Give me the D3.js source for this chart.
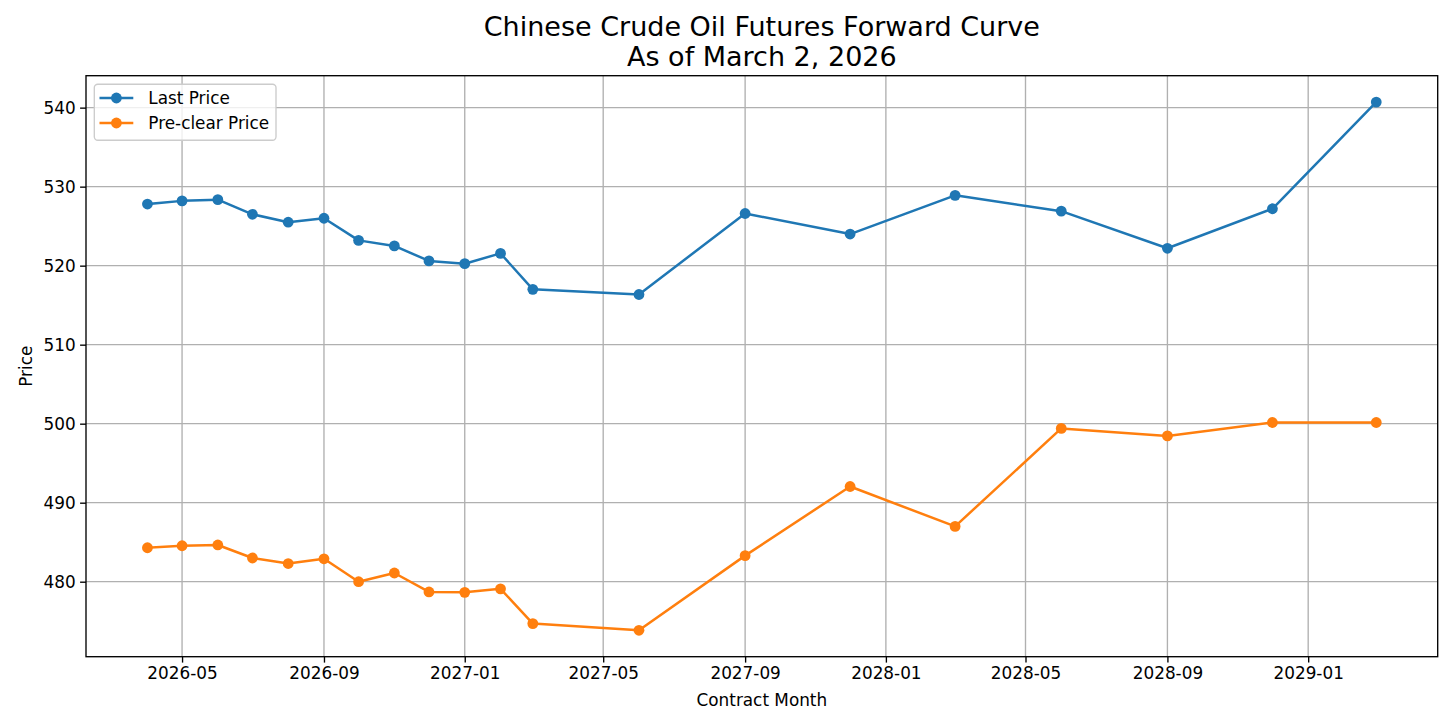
<!DOCTYPE html>
<html>
<head>
<meta charset="utf-8">
<script src="https://cdn.jsdelivr.net/npm/d3@7"></script>
<style>
  html, body { margin: 0; padding: 0; background: #ffffff; }
  svg { display: block; font-family: "DejaVu Sans", sans-serif; }
</style>
</head>
<body>
<svg id="chart" width="1456" height="728"></svg>
<script>
// ---- data ----
const contractMonths = ["2026-04","2026-05","2026-06","2026-07","2026-08","2026-09","2026-10","2026-11","2026-12",
  "2027-01","2027-02","2027-03","2027-06","2027-09","2027-12","2028-03","2028-06","2028-09","2028-12","2029-03"];
const lastPrice = [527.8, 528.2, 528.35, 526.5, 525.5, 526.0, 523.2, 522.5, 520.6,
  520.25, 521.55, 517.0, 516.35, 526.6, 524.0, 528.9, 526.9, 522.2, 527.2, 540.7];
const preclearPrice = [484.3, 484.55, 484.65, 483.0, 482.3, 482.9, 480.0, 481.1, 478.7,
  478.65, 479.1, 474.7, 473.85, 483.3, 492.05, 487.0, 499.4, 498.45, 500.15, 500.15];
const xTickLabels = ["2026-05","2026-09","2027-01","2027-05","2027-09","2028-01","2028-05","2028-09","2029-01"];
const yTickValues = [480, 490, 500, 510, 520, 530, 540];
const seriesNames = ["Last Price", "Pre-clear Price"];
const titleLines = ["Chinese Crude Oil Futures Forward Curve", "As of March 2, 2026"];

// ---- layout ----
const W = 1456, H = 728;
const m = { left: 86, right: 18.3, top: 75.7, bottom: 71.3 };
const parse = d3.timeParse("%Y-%m");
const dates = contractMonths.map(parse);
const colors = ["#1f77b4", "#ff7f0e"];
const fs = 16.85;
const markerR = 5.4;

const svg = d3.select("#chart");

// x scale with matplotlib-like 5% margins
const t0 = d3.min(dates).getTime(), t1 = d3.max(dates).getTime();
const padT = (t1 - t0) * 0.05;
const x = d3.scaleTime()
  .domain([new Date(t0 - padT), new Date(t1 + padT)])
  .range([m.left, W - m.right]);

const allVals = lastPrice.concat(preclearPrice);
const v0 = d3.min(allVals), v1 = d3.max(allVals);
const padV = (v1 - v0) * 0.05;
const y = d3.scaleLinear()
  .domain([v0 - padV, v1 + padV])
  .range([H - m.bottom, m.top]);

const xTicks = xTickLabels.map(parse);

// grid
const grid = svg.append("g");
grid.selectAll("line.gx").data(xTicks).enter().append("line")
  .attr("x1", d => x(d)).attr("x2", d => x(d))
  .attr("y1", m.top).attr("y2", H - m.bottom)
  .attr("stroke", "#b0b0b0").attr("stroke-width", 1.35);
grid.selectAll("line.gy").data(yTickValues).enter().append("line")
  .attr("x1", m.left).attr("x2", W - m.right)
  .attr("y1", d => y(d)).attr("y2", d => y(d))
  .attr("stroke", "#b0b0b0").attr("stroke-width", 1.35);

// axes
const xAxis = d3.axisBottom(x).tickValues(xTicks).tickFormat(d3.timeFormat("%Y-%m"))
  .tickSize(5.9).tickPadding(4.5).tickSizeOuter(0);
const yAxis = d3.axisLeft(y).tickValues(yTickValues).tickFormat(d3.format("d"))
  .tickSize(5.9).tickPadding(4.5).tickSizeOuter(0);

const gx = svg.append("g").attr("transform", `translate(0,${H - m.bottom})`).call(xAxis);
const gy = svg.append("g").attr("transform", `translate(${m.left},0)`).call(yAxis);
[gx, gy].forEach(g => {
  g.select(".domain").remove();
  g.selectAll(".tick line").attr("stroke", "#000").attr("stroke-width", 1.35);
  g.selectAll(".tick text").attr("fill", "#000").attr("font-size", fs)
    .attr("font-family", "DejaVu Sans");
});

// series
const line = d3.line().x((d, i) => x(dates[i])).y(d => y(d));
[lastPrice, preclearPrice].forEach((vals, k) => {
  const g = svg.append("g");
  g.append("path").datum(vals).attr("d", line)
    .attr("fill", "none").attr("stroke", colors[k]).attr("stroke-width", 2.5)
    .attr("stroke-linejoin", "round").attr("stroke-linecap", "square");
  g.selectAll("circle").data(vals).enter().append("circle")
    .attr("cx", (d, i) => x(dates[i])).attr("cy", d => y(d)).attr("r", markerR)
    .attr("fill", colors[k]);
});

// frame
svg.append("rect")
  .attr("x", m.left).attr("y", m.top)
  .attr("width", W - m.left - m.right).attr("height", H - m.top - m.bottom)
  .attr("fill", "none").attr("stroke", "#000").attr("stroke-width", 1.35);

// legend
const lg = svg.append("g");
lg.append("rect").attr("x", 94.3).attr("y", 84.2).attr("width", 181.7).attr("height", 56)
  .attr("rx", 3.5).attr("fill", "#ffffff").attr("fill-opacity", 0.8)
  .attr("stroke", "#cccccc").attr("stroke-width", 1.35);
seriesNames.forEach((name, k) => {
  const cy = 98 + k * 25;
  lg.append("line").attr("x1", 99.5).attr("x2", 133.3).attr("y1", cy).attr("y2", cy)
    .attr("stroke", colors[k]).attr("stroke-width", 2.5);
  lg.append("circle").attr("cx", 116.4).attr("cy", cy).attr("r", markerR).attr("fill", colors[k]);
  lg.append("text").attr("x", 148.3).attr("y", cy).attr("dy", "0.36em")
    .attr("font-size", fs).attr("fill", "#000").text(name);
});

// titles & labels
const cx = (m.left + W - m.right) / 2;
svg.append("text").attr("x", cx).attr("y", 36).attr("text-anchor", "middle")
  .attr("font-size", 27).attr("fill", "#000").text(titleLines[0]);
svg.append("text").attr("x", cx).attr("y", 66).attr("text-anchor", "middle")
  .attr("font-size", 27).attr("fill", "#000").text(titleLines[1]);
svg.append("text").attr("x", cx).attr("y", 706).attr("text-anchor", "middle")
  .attr("font-size", fs).attr("fill", "#000").text("Contract Month");
svg.append("text")
  .attr("transform", `translate(32,${(m.top + H - m.bottom) / 2}) rotate(-90)`)
  .attr("text-anchor", "middle").attr("font-size", fs).attr("fill", "#000").text("Price");
</script>
</body>
</html>
